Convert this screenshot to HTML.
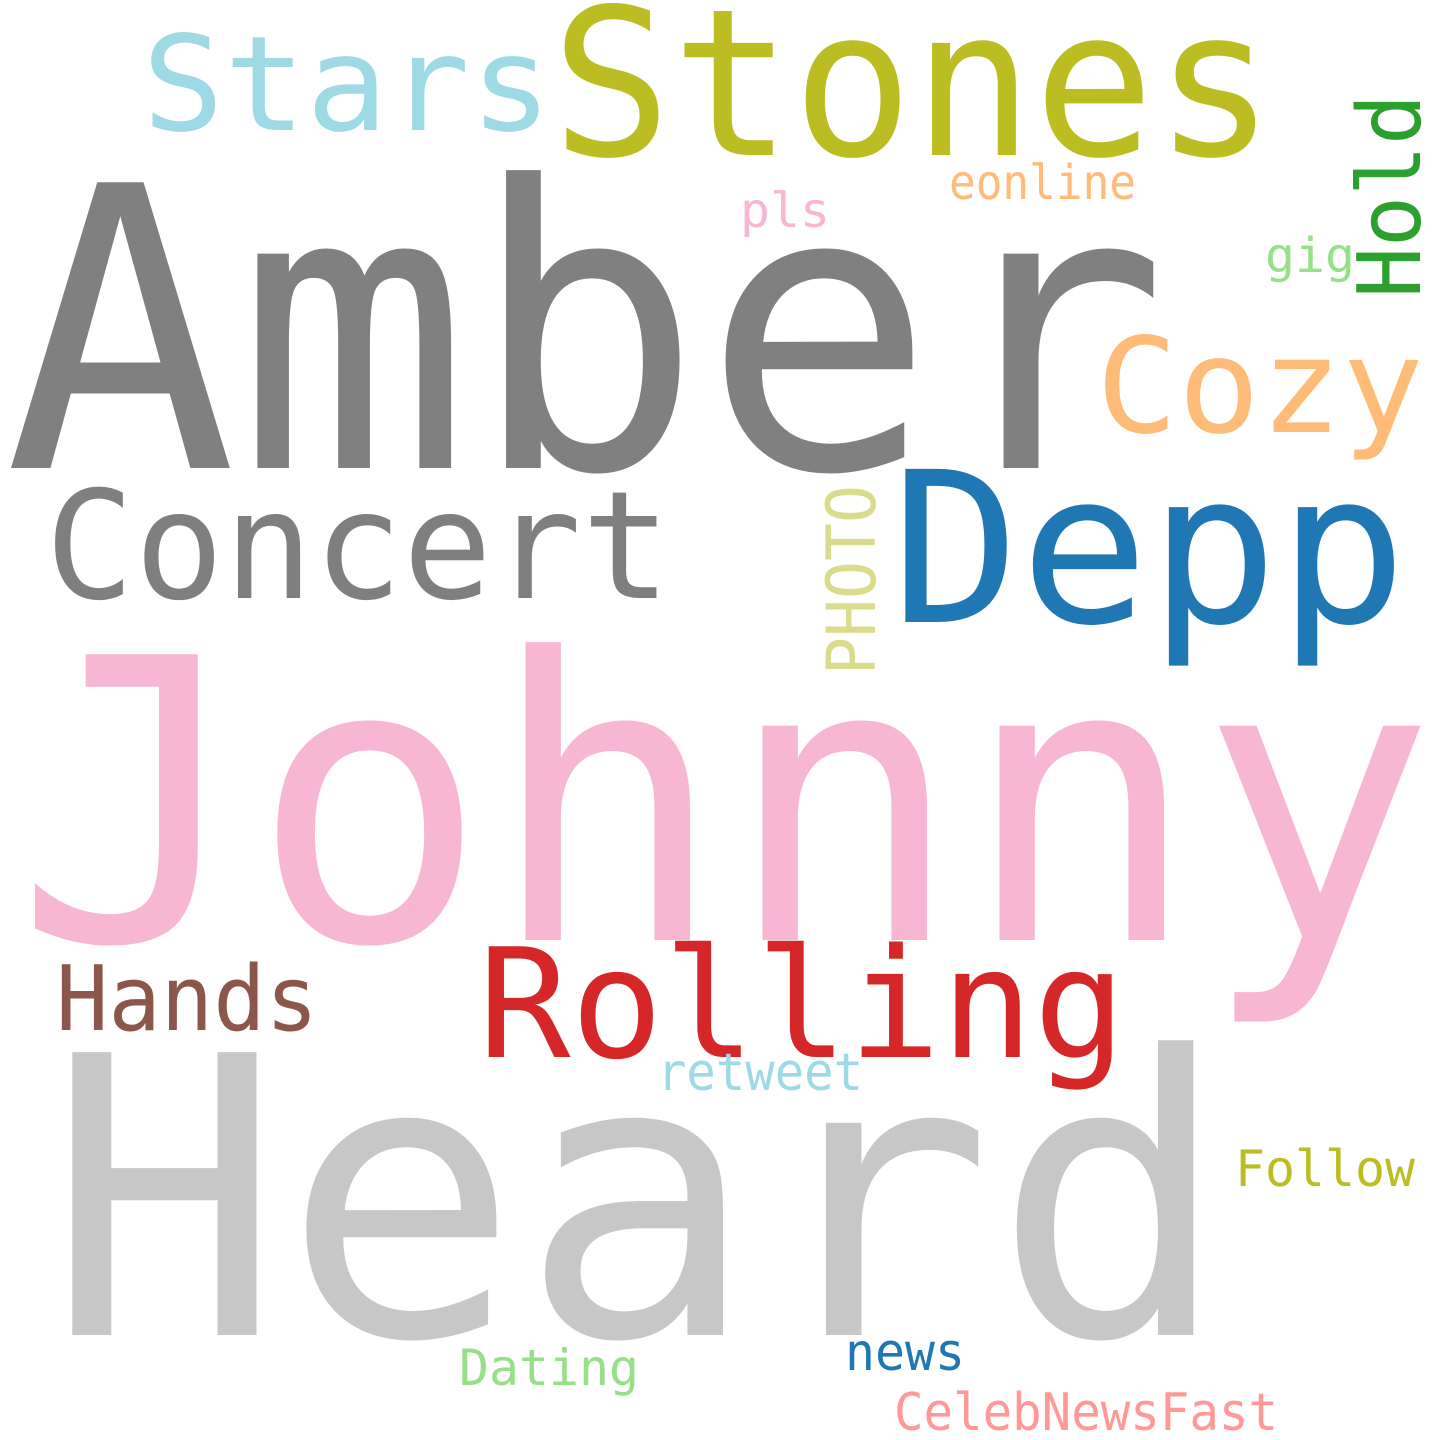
<!DOCTYPE html>
<html><head><meta charset="utf-8"><style>
html,body{margin:0;padding:0;background:#fff}
svg{display:block}
text{font-family:"DejaVu Sans Mono","Liberation Mono",monospace}
</style></head><body>
<svg width="1440" height="1440" viewBox="0 0 1440 1440" xmlns="http://www.w3.org/2000/svg">
<rect width="1440" height="1440" fill="#fff"/>
<g>
<text x="4" y="468" font-size="392" fill="#808080" textLength="1164" lengthAdjust="spacingAndGlyphs">Amber</text>
<text x="14" y="940" font-size="392" fill="#f7b6d2" textLength="1422" lengthAdjust="spacingAndGlyphs">Johnny</text>
<text x="46" y="1335" font-size="388" fill="#c7c7c7" textLength="1184" lengthAdjust="spacingAndGlyphs">Heard</text>
<text x="551" y="155" font-size="205" fill="#bcbd22" textLength="724" lengthAdjust="spacingAndGlyphs">Stones</text>
<text x="142" y="130" font-size="132" fill="#9edae5" textLength="410" lengthAdjust="spacingAndGlyphs">Stars</text>
<text x="45" y="598" font-size="150" fill="#7f7f7f" textLength="626" lengthAdjust="spacingAndGlyphs">Concert</text>
<text x="891" y="622" font-size="210" fill="#1f77b4" textLength="516" lengthAdjust="spacingAndGlyphs">Depp</text>
<text x="1096" y="432" font-size="132" fill="#ffbb78" textLength="328" lengthAdjust="spacingAndGlyphs">Cozy</text>
<text x="478" y="1057" font-size="152" fill="#d62728" textLength="648" lengthAdjust="spacingAndGlyphs">Rolling</text>
<text x="56" y="1030" font-size="90" fill="#8c564b" textLength="262" lengthAdjust="spacingAndGlyphs">Hands</text>
<text x="657" y="1090" font-size="52" fill="#9edae5" textLength="206" lengthAdjust="spacingAndGlyphs">retweet</text>
<text x="1235" y="1186" font-size="50" fill="#bcbd22" textLength="180" lengthAdjust="spacingAndGlyphs">Follow</text>
<text x="845" y="1370" font-size="52" fill="#1f77b4" textLength="120" lengthAdjust="spacingAndGlyphs">news</text>
<text x="459" y="1385" font-size="50" fill="#98df8a" textLength="180" lengthAdjust="spacingAndGlyphs">Dating</text>
<text x="894" y="1430" font-size="52" fill="#ff9896" textLength="384" lengthAdjust="spacingAndGlyphs">CelebNewsFast</text>
<text x="949" y="199" font-size="48" fill="#ffbb78" textLength="187" lengthAdjust="spacingAndGlyphs">eonline</text>
<text x="740" y="227" font-size="48" fill="#f7b6d2" textLength="90" lengthAdjust="spacingAndGlyphs">pls</text>
<text x="1265" y="272" font-size="48" fill="#98df8a" textLength="90" lengthAdjust="spacingAndGlyphs">gig</text>
<text x="0" y="0" font-size="87" fill="#2ca02c" textLength="204" lengthAdjust="spacingAndGlyphs" transform="translate(1420,298) rotate(-90)">Hold</text>
<text x="0" y="0" font-size="68" fill="#dbdb8d" textLength="190" lengthAdjust="spacingAndGlyphs" transform="translate(875,675) rotate(-90)">PHOTO</text>
</g>
</svg>
</body></html>
